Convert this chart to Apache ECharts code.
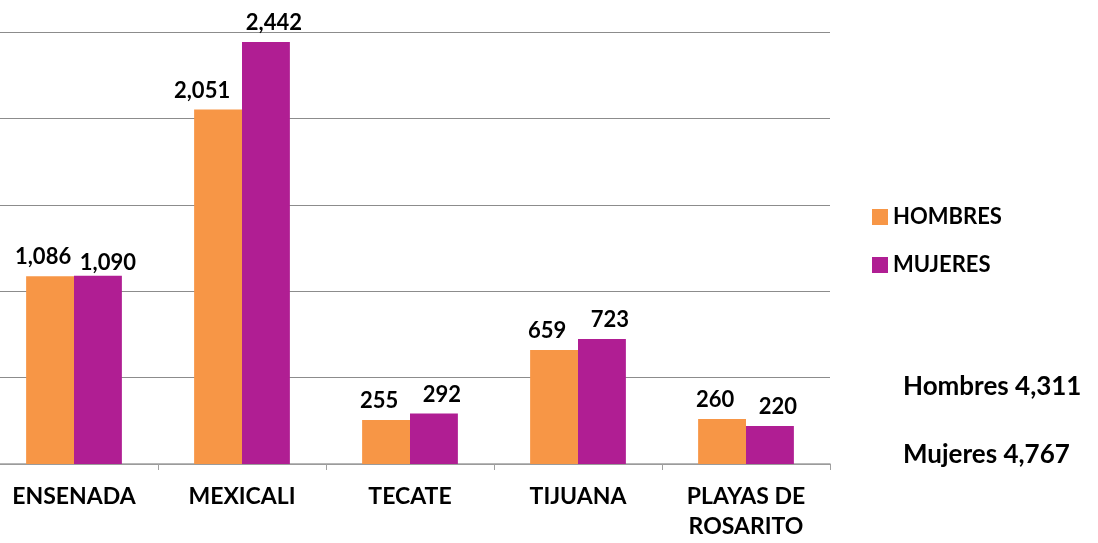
<!DOCTYPE html>
<html><head><meta charset="utf-8">
<script src="https://cdn.jsdelivr.net/npm/echarts@6/dist/echarts.min.js"></script>
<style>html,body{margin:0;padding:0;background:#fff;overflow:hidden}#c{width:1108px;height:543px;margin-left:-10px}</style>
</head><body><div id="c"></div>
<script>
const categories = ['ENSENADA', 'MEXICALI', 'TECATE', 'TIJUANA', 'PLAYAS DE\nROSARITO'];
const hombres = [1086, 2051, 255, 659, 260];
const mujeres = [1090, 2442, 292, 723, 220];
const seriesNames = ['HOMBRES', 'MUJERES'];
const totals = ['Hombres 4,311', 'Mujeres 4,767'];

const FONT = 'Lato';
const X0 = 10; // container is shifted 10px left of the page
const chart = echarts.init(document.getElementById('c'), null, {renderer: 'canvas'});
const fmt = v => v.toLocaleString('en-US');
const baseLabel = {show: true, position: 'top', distance: 8, formatter: p => fmt(p.value),
  color: '#000', fontFamily: FONT, fontWeight: 'bold', fontSize: 22};
// label nudges (Excel-style collision avoidance)
const hLabel = Object.assign({}, baseLabel, {offset: [-7, 0]});
const mLabel = Object.assign({}, baseLabel, {offset: [8, 0]});
const hItems = hombres.map((v, i) => i === 1 ? {value: v, label: {offset: [-16, 0]}} : v);
const mItems = mujeres.map((v, i) => i === 0 ? {value: v, label: {offset: [10, 6]}} : v);

chart.setOption({
  animation: false,
  textStyle: {fontFamily: FONT},
  grid: {left: 0, width: 840, top: 32, bottom: 79, containLabel: false},
  legend: {
    orient: 'vertical', left: 872 + X0, top: 206, padding: 0, itemWidth: 16, itemHeight: 16, itemGap: 26,
    icon: 'rect', data: seriesNames,
    textStyle: {fontFamily: FONT, fontWeight: 'bold', fontSize: 22, lineHeight: 22, color: '#000'}
  },
  xAxis: {
    type: 'category', data: categories,
    axisLine: {lineStyle: {color: '#a0a0a0', width: 1.5}},
    axisTick: {show: true, length: 6, lineStyle: {color: '#a0a0a0'}},
    axisLabel: {color: '#000', fontFamily: FONT, fontWeight: 'bold', fontSize: 23, margin: 18, lineHeight: 30, interval: 0}
  },
  yAxis: {
    type: 'value', min: 0, max: 2500, interval: 500,
    axisLabel: {show: false}, axisLine: {show: false}, axisTick: {show: false},
    splitLine: {lineStyle: {color: '#8c8c8c', width: 1}}
  },
  series: [
    {name: seriesNames[0], type: 'bar', data: hItems, barGap: '0%', barCategoryGap: '43%',
     itemStyle: {color: '#F79646'}, label: hLabel},
    {name: seriesNames[1], type: 'bar', data: mItems,
     itemStyle: {color: '#B01E93'}, label: mLabel}
  ],
  graphic: [
    {type: 'text', x: 903 + X0, y: 387, style: {text: totals[0], fontFamily: FONT, fontWeight: 'bold', fontSize: 26, fill: '#000', verticalAlign: 'middle'}},
    {type: 'text', x: 903 + X0, y: 455, style: {text: totals[1], fontFamily: FONT, fontWeight: 'bold', fontSize: 26, fill: '#000', verticalAlign: 'middle'}}
  ]
});
</script></body></html>
